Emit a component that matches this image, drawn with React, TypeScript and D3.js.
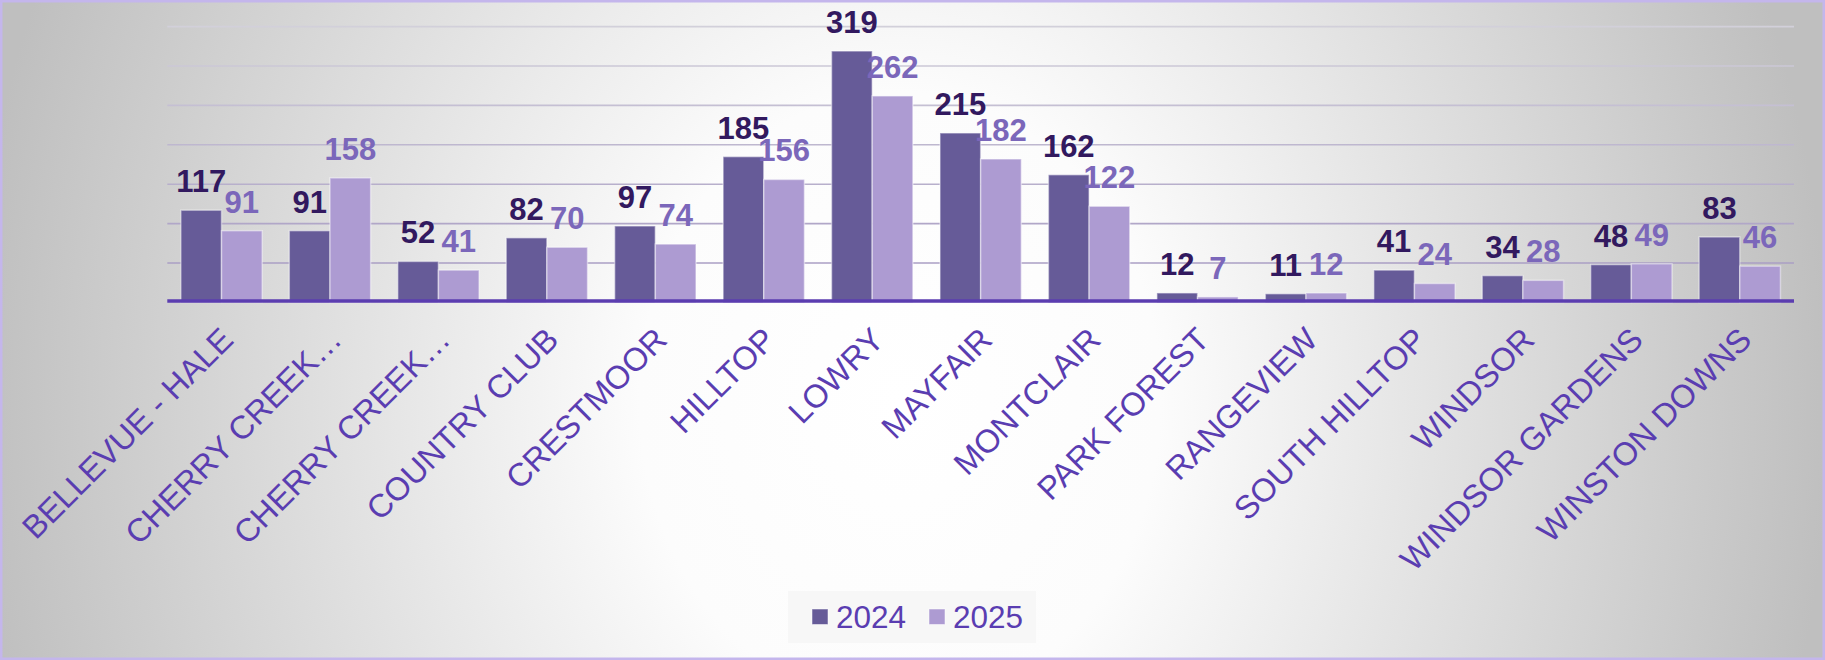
import React from 'react';
import * as d3 from 'd3';

const neighborhoods = [
  'BELLEVUE - HALE', 'CHERRY CREEK…', 'CHERRY CREEK…', 'COUNTRY CLUB', 'CRESTMOOR',
  'HILLTOP', 'LOWRY', 'MAYFAIR', 'MONTCLAIR', 'PARK FOREST',
  'RANGEVIEW', 'SOUTH HILLTOP', 'WINDSOR', 'WINDSOR GARDENS', 'WINSTON DOWNS',
];
const series = ['2024', '2025'];
const values2024 = [117, 91, 52, 82, 97, 185, 319, 215, 162, 12, 11, 41, 34, 48, 83];
const values2025 = [91, 158, 41, 70, 74, 156, 262, 182, 122, 7, 12, 24, 28, 49, 46];
const gridTicks = [50, 100, 150, 200, 250, 300, 350];

const W = 1825;
const H = 660;
const FONT = 'Arial, "Liberation Sans", sans-serif';

const barFill = ['#665b98', '#ad9bd2'];
const labelFill = ['#32195f', '#7b67ba'];
const textPurple = '#5a3db1';

const App = () => {
  const x0 = d3.scaleBand<number>()
    .domain(d3.range(neighborhoods.length))
    .range([167.3, 1794])
    .paddingInner(0.25)
    .paddingOuter(0.125);
  const x1 = d3.scaleBand<string>()
    .domain(series)
    .range([0, x0.bandwidth()]);
  const y = d3.scaleLinear().domain([0, 350]).range([302.4, 26.6]);

  const rows = neighborhoods.map((name, i) => ({ name, i, vals: [values2024[i], values2025[i]] }));

  return (
    <div style={{ position: 'absolute', left: 0, top: 0 }}>
      <svg width={W} height={H} style={{ display: 'block' }}>
        <defs>
          <radialGradient id="bg" gradientUnits="userSpaceOnUse" cx={900} cy={400} r={1000}
            gradientTransform="translate(900 400) scale(0.93 1.1) translate(-900 -400)">
            <stop offset="0" stopColor="#ffffff" />
            <stop offset="0.28" stopColor="#fcfcfc" />
            <stop offset="1" stopColor="#bfbfbf" />
          </radialGradient>
          <linearGradient id="grid" gradientUnits="userSpaceOnUse" x1={0} y1={26} x2={0} y2={300}>
            <stop offset="0" stopColor="#d2d0da" />
            <stop offset="1" stopColor="#a497c1" />
          </linearGradient>
        </defs>

        <rect x={1.25} y={1.25} width={W - 2.5} height={H - 2.5} fill="url(#bg)" stroke="#c4b6ec" strokeWidth={2.5} />

        {/* gridlines */}
        <g>
          {gridTicks.map(t => (
            <line key={t} x1={167.3} x2={1794} y1={y(t)} y2={y(t)} stroke="url(#grid)" strokeWidth={1.6} />
          ))}
        </g>

        {/* bars */}
        <g>
          {rows.map(r => (
            <g key={r.i} transform={`translate(${x0(r.i)},0)`}>
              {series.map((s, k) => (
                <rect
                  key={s}
                  x={x1(s)}
                  y={y(r.vals[k])}
                  width={x1.bandwidth()}
                  height={y(0) - y(r.vals[k])}
                  fill={barFill[k]}
                  stroke="#ffffff"
                  strokeOpacity={0.45}
                  strokeWidth={1.5}
                />
              ))}
            </g>
          ))}
        </g>

        {/* axis line */}
        <line x1={167.3} x2={1794} y1={301} y2={301} stroke="#5b3db0" strokeWidth={3.5} />

        {/* value labels */}
        <g fontFamily={FONT} fontWeight="bold" fontSize={31} textAnchor="middle">
          {rows.map(r => series.map((s, k) => (
            <text
              key={`${r.i}-${s}`}
              x={(x0(r.i) || 0) + (x1(s) || 0) + x1.bandwidth() / 2}
              y={y(r.vals[k]) - 18}
              fill={labelFill[k]}
            >
              {r.vals[k]}
            </text>
          )))}
        </g>

        {/* category labels */}
        <g fontFamily={FONT} fontSize={32.5} fill={textPurple} textAnchor="end">
          {rows.map(r => (
            <text
              key={r.i}
              transform={`translate(${(x0(r.i) || 0) + x0.bandwidth() / 2 - 3},325) rotate(-45)`}
              dy="0.72em"
            >
              {r.name}
            </text>
          ))}
        </g>

        {/* legend */}
        <g fontFamily={FONT} fontSize={31.5} fill={textPurple}>
          <rect x={788} y={591} width={248} height={52} fill="#f7f7f7" />
          {series.map((s, k) => (
            <g key={s} transform={`translate(${k === 0 ? 812 : 929},0)`}>
              <rect x={0} y={609} width={16} height={15.5} fill={barFill[k]} stroke="#ffffff" strokeOpacity={0.5} strokeWidth={1} />
              <text x={24} y={628}>{s}</text>
            </g>
          ))}
        </g>
      </svg>
    </div>
  );
};

export default App;
